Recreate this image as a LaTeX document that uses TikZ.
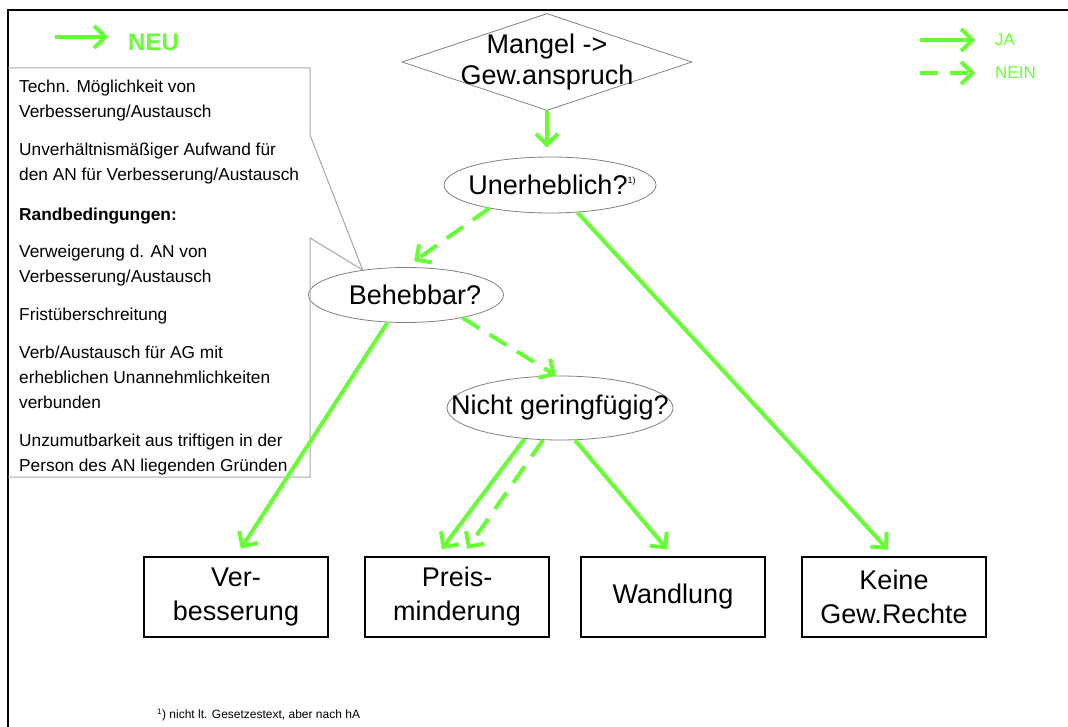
\documentclass[tikz,border=0pt]{standalone}
\usepackage{fontspec}
\setmainfont{Liberation Sans}
\usetikzlibrary{shapes.geometric,arrows.meta}
\definecolor{neugruen}{HTML}{66FF33}
\tikzset{
    ja/.style={draw=neugruen, line width=4pt, -{Straight Barb[length=11pt,width=22pt]}},
    nein/.style={ja, dash pattern=on 20pt off 12pt},
    frage/.style={ellipse, draw=gray, line width=0.8pt, inner sep=0pt, font=\fontsize{27}{32}\selectfont},
    raute/.style={diamond, draw=gray, line width=0.8pt, inner sep=0pt, minimum width=290pt, minimum height=97pt},
    ergebnis/.style={rectangle, draw=black, line width=1.5pt, minimum width=184pt, minimum height=80pt, align=center, font=\fontsize{27}{34}\selectfont},
    legende/.style={text=neugruen, font=\fontsize{17}{20}\selectfont, anchor=west, inner sep=0pt},
}

\begin{document}
\begin{tikzpicture}[x=1pt, y=-1pt]
\useasboundingbox (0,0) rectangle (1068,727);
\draw[line width=2pt] (1068,10) -- (8,10) -- (8,727);

\coordinate (neuA) at (55,37);
\coordinate (neuB) at (108,37);
\draw[ja] (neuA) -- (neuB);
\node[legende, font=\bfseries\fontsize{24}{28}\selectfont] (legNeu) at (128,42) {NEU};
\coordinate (jaA) at (920,40);
\coordinate (jaB) at (975,40);
\draw[ja] (jaA) -- (jaB);
\node[legende] (legJa) at (995,40) {JA};
\coordinate (neinA) at (920,73);
\coordinate (neinB) at (975,73);
\draw[nein, dash pattern=on 18pt off 12pt] (neinA) -- (neinB);
\node[legende] (legNein) at (995,73) {NEIN};

\node[raute] (raute) at (547,62) {};
\node[align=center, inner sep=0pt, font=\fontsize{27}{31}\selectfont] (mangel) at (raute.center) {Mangel ->\\Gew.anspruch};
\node[frage, minimum width=212pt, minimum height=56pt] (unerh) at (550,185) {\makebox[0pt]{\hspace{4pt}Unerheblich?\raisebox{11pt}{\fontsize{9}{9}\selectfont 1)}}};
\node[frage, minimum width=195pt, minimum height=55pt] (behebbar) at (406,295) {\makebox[0pt]{\hspace{18pt}Behebbar?}};
\node[frage, minimum width=226pt, minimum height=64pt] (nicht) at (560,408) {\makebox[0pt]{Nicht geringfügig?}};

\node[ergebnis] (ver) at (236,597) {Ver-\\besserung};
\node[ergebnis] (preis) at (457,597) {Preis-\\minderung};
\node[ergebnis] (wandlung) at (673,597) {Wandlung};
\node[ergebnis] (keine) at (894,597) {Keine\\Gew.Rechte};

\draw[gray!70, line width=1pt] (8,68) -- (310,68) -- (310,135) -- (behebbar.150) -- (310,238) -- (310,477) -- (8,477);
\node[anchor=north west, align=left, inner sep=0pt, font=\fontsize{17.3}{25}\selectfont] (hinweis) at (19,80)
{Techn. Möglichkeit von\\Verbesserung/Austausch\\[13pt]
Unverhältnismäßiger Aufwand für\\den AN für Verbesserung/Austausch\\[15pt]
\textbf{Randbedingungen:}\\[12pt]
Verweigerung d. AN von\\Verbesserung/Austausch\\[13pt]
Fristüberschreitung\\[13pt]
Verb/Austausch für AG mit\\erheblichen Unannehmlichkeiten\\verbunden\\[13pt]
Unzumutbarkeit aus triftigen in der\\Person des AN liegenden Gründen};

\draw[ja, shorten >=9pt] (raute.south) -- (raute.south |- unerh.north);
\draw[nein, shorten >=10pt] (unerh.201) -- (behebbar.north);
\draw[ja, shorten >=9pt] (unerh.315) -- (keine.north);
\draw[ja, shorten >=9pt] (behebbar.236) -- (ver.north);
\draw[nein] (behebbar.338) -- (nicht.97);
\draw[ja, shorten >=9pt] (nicht.221) -- (preis.117);
\draw[nein, shorten >=9pt] (nicht.242) -- (preis.83);
\draw[ja, shorten >=9pt] (nicht.295) -- (wandlung.north);

\node[anchor=west, inner sep=0pt, font=\fontsize{12}{14}\selectfont] (fussnote) at (157,715) {\textsuperscript{1}) nicht lt. Gesetzestext, aber nach hA};
\end{tikzpicture}
\end{document}
